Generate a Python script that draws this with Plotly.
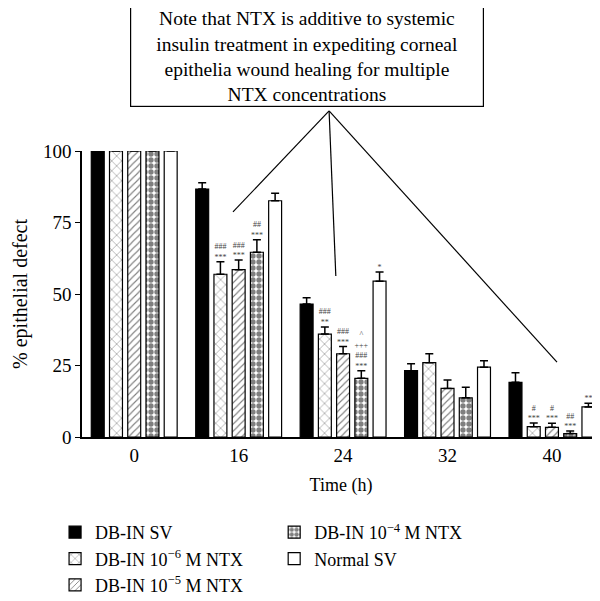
import plotly.graph_objects as go

times = ["0", "16", "24", "32", "40"]

series_names = [
    "DB-IN SV",
    "DB-IN 10<sup>−6</sup> M NTX",
    "DB-IN 10<sup>−5</sup> M NTX",
    "DB-IN 10<sup>−4</sup> M NTX",
    "Normal SV",
]

db_sv = [100, 86.7, 46.5, 23.2, 19.1]
db_ntx6 = [100, 56.9, 36.0, 26.0, 3.6]
db_ntx5 = [100, 58.5, 29.1, 17.0, 3.4]
db_ntx4 = [100, 64.6, 20.5, 13.7, 1.2]
normal_sv = [100, 82.6, 54.5, 24.4, 10.5]

err_db_sv = [0, 2.2, 2.2, 2.4, 3.4]
err_db_ntx6 = [0, 4.4, 2.5, 3.1, 1.3]
err_db_ntx5 = [0, 3.4, 2.5, 2.9, 1.4]
err_db_ntx4 = [0, 4.4, 2.7, 3.7, 0.9]
err_normal_sv = [0, 2.6, 3.2, 2.3, 1.3]

sig_db_sv = ["", "", "", "", ""]
sig_db_ntx6 = ["", "###<br>***", "###<br>**", "", "#<br>***"]
sig_db_ntx5 = ["", "###<br>***", "###<br>***", "", "#<br>***"]
sig_db_ntx4 = ["", "##<br>***", "^<br>+++<br>###<br>***", "", "##<br>***"]
sig_normal_sv = ["", "", "*", "", "**"]

values = [db_sv, db_ntx6, db_ntx5, db_ntx4, normal_sv]
errors = [err_db_sv, err_db_ntx6, err_db_ntx5, err_db_ntx4, err_normal_sv]
sigs = [sig_db_sv, sig_db_ntx6, sig_db_ntx5, sig_db_ntx4, sig_normal_sv]

styles = [
    dict(color="black", pattern=dict(shape="")),
    dict(color="white", pattern=dict(shape="x", fgcolor="black", bgcolor="white", size=7, solidity=0.15)),
    dict(color="white", pattern=dict(shape="/", fgcolor="black", bgcolor="white", size=5, solidity=0.22)),
    dict(color="white", pattern=dict(shape=".", fgcolor="black", bgcolor="white", size=6, solidity=0.62)),
    dict(color="white", pattern=dict(shape="")),
]
legend_ids = ["legend", "legend", "legend", "legend2", "legend2"]

FONT = "Liberation Serif"

fig = go.Figure()
for i in range(5):
    fig.add_trace(go.Bar(
        x=times, y=values[i], name=series_names[i],
        marker=dict(color=styles[i]["color"], pattern=styles[i]["pattern"],
                    line=dict(color="black", width=1.2)),
        error_y=dict(type="data", symmetric=False, array=errors[i],
                     arrayminus=[0] * 5, color="black", thickness=1.5, width=4),
        legend=legend_ids[i],
    ))

for i in range(5):
    tops = [v + e for v, e in zip(values[i], errors[i])]
    keep = [j for j in range(5) if sigs[i][j]]
    if keep:
        fig.add_trace(go.Scatter(
            x=[times[j] for j in keep], y=[tops[j] for j in keep],
            mode="text", text=[sigs[i][j] for j in keep],
            textposition="top center",
            textfont=dict(family=FONT, size=8, color="#444444"),
            showlegend=False, cliponaxis=False, hoverinfo="skip",
        ))
    else:
        fig.add_trace(go.Scatter(
            x=times, y=tops, mode="markers", marker=dict(opacity=0, size=1),
            showlegend=False, hoverinfo="skip",
        ))

fig.update_layout(
    width=600, height=620,
    margin=dict(l=74, r=8, t=143, b=191),
    paper_bgcolor="white", plot_bgcolor="white",
    barmode="group", bargap=0.127, bargroupgap=0.29,
    scattermode="group", scattergap=0.127,
    font=dict(family=FONT, size=18, color="black"),
    xaxis=dict(type="category", range=[-0.5, 4.46], showline=True, linecolor="black",
               linewidth=1.5, ticks="", showgrid=False, zeroline=False,
               title=dict(text="Time (h)", font=dict(size=18), standoff=14),
               tickfont=dict(size=19)),
    yaxis=dict(range=[0, 100], tickvals=[0, 25, 50, 75, 100], showline=True,
               linecolor="black", linewidth=1.6, ticks="outside", ticklen=5,
               tickwidth=1.3, tickcolor="black", showgrid=False, zeroline=False,
               layer="above traces",
               title=dict(text="% epithelial defect", font=dict(size=20), standoff=10),
               tickfont=dict(size=19)),
    legend=dict(x=-0.052, y=-0.269, xanchor="left", yanchor="top", orientation="v",
                font=dict(size=18), bgcolor="rgba(0,0,0,0)", tracegroupgap=0),
    legend2=dict(x=0.371, y=-0.269, xanchor="left", yanchor="top", orientation="v",
                 font=dict(size=18), bgcolor="rgba(0,0,0,0)", tracegroupgap=0),
    showlegend=True,
)

fig.add_annotation(
    xref="paper", yref="paper", x=0.434, y=1.329, xanchor="center", yanchor="middle",
    text=("Note that NTX is additive to systemic<br>insulin treatment in expediting corneal"
          "<br>epithelia wound healing for multiple<br>NTX concentrations"),
    showarrow=False, font=dict(family=FONT, size=19.5, color="black"),
    bordercolor="black", borderwidth=1.2, borderpad=1, width=350,
    bgcolor="white", align="center",
)

start = (0.477, 1.140)
ends = [(0.2915, 0.787), (0.490, 0.563), (0.917, 0.262)]
for ex, ey in ends:
    fig.add_shape(type="line", xref="paper", yref="paper", x0=start[0], y0=start[1],
                  x1=ex, y1=ey, line=dict(color="black", width=1.2))

fig.write_html("out.html")
